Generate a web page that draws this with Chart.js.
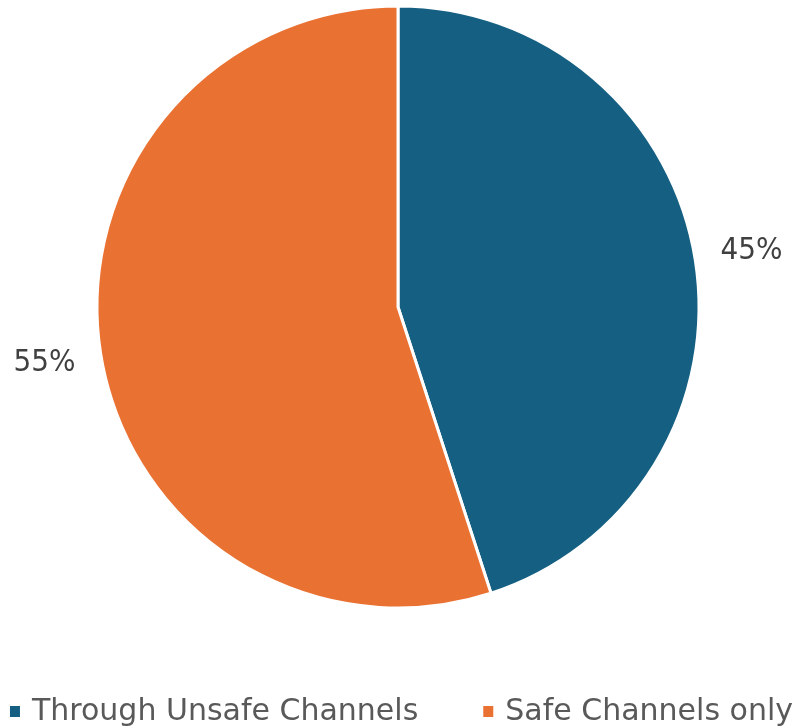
<!DOCTYPE html>
<html lang="en">
<head>
    <meta charset="UTF-8">
    <title>Channels</title>
    <script src="https://cdn.jsdelivr.net/npm/chart.js"></script>
    <style>
        html, body { margin: 0; padding: 0; background: #fff; }
        #wrap { width: 803px; height: 728px; }
    </style>
</head>
<body>
    <div id="wrap"><canvas id="pieChart"></canvas></div>
    <script>
        const categories = ['Through Unsafe Channels', 'Safe Channels only'];
        const shares = [45, 55];
        const sliceColors = ['#156082', '#E97132'];

        const LABEL_FONT = '31px "DejaVu Sans Condensed", "DejaVu Sans", sans-serif';
        const LEGEND_FONT = '30px "DejaVu Sans", sans-serif';

        // percent labels sitting outside each slice
        const outsideLabels = {
            id: 'outsideLabels',
            afterDatasetsDraw(chart) {
                const ctx = chart.ctx;
                const meta = chart.getDatasetMeta(0);
                ctx.save();
                ctx.font = LABEL_FONT;
                ctx.fillStyle = '#404040';
                ctx.textAlign = 'center';
                ctx.textBaseline = 'middle';
                meta.data.forEach((arc, i) => {
                    const p = arc.getProps(['x', 'y', 'startAngle', 'endAngle', 'outerRadius'], true);
                    const mid = (p.startAngle + p.endAngle) / 2;
                    const r = p.outerRadius + 57;
                    ctx.fillText(shares[i] + '%', p.x + Math.cos(mid) * r, p.y + Math.sin(mid) * r);
                });
                ctx.restore();
            }
        };

        // legend row under the pie (built-in one wraps at this size)
        const bottomLegend = {
            id: 'bottomLegend',
            afterDraw(chart) {
                const ctx = chart.ctx;
                const labels = chart.data.labels;
                const colors = chart.data.datasets[0].backgroundColor;
                const box = 10, textGap = 12, itemGap = 65;
                ctx.save();
                ctx.font = LEGEND_FONT;
                const widths = labels.map(t => box + textGap + ctx.measureText(t).width);
                const total = widths.reduce((a, b) => a + b, 0) + itemGap * (labels.length - 1);
                let x = (chart.width - total) / 2;
                const cy = 712;
                ctx.textBaseline = 'middle';
                ctx.textAlign = 'left';
                labels.forEach((t, i) => {
                    ctx.fillStyle = colors[i];
                    ctx.fillRect(x, cy - 6, box, 11);
                    ctx.fillStyle = '#595959';
                    ctx.fillText(t, x + box + textGap, cy);
                    x += widths[i] + itemGap;
                });
                ctx.restore();
            }
        };

        const ctx = document.getElementById('pieChart').getContext('2d');
        new Chart(ctx, {
            type: 'pie',
            data: {
                labels: categories,
                datasets: [{
                    data: shares,
                    backgroundColor: sliceColors,
                    borderColor: '#ffffff',
                    borderWidth: 3,
                    radius: 301
                }]
            },
            options: {
                responsive: true,
                maintainAspectRatio: false,
                animation: false,
                layout: { padding: { top: 0, left: 0, right: 7, bottom: 114 } },
                plugins: {
                    tooltip: { enabled: false },
                    legend: { display: false }
                }
            },
            plugins: [outsideLabels, bottomLegend]
        });
    </script>
</body>
</html>
